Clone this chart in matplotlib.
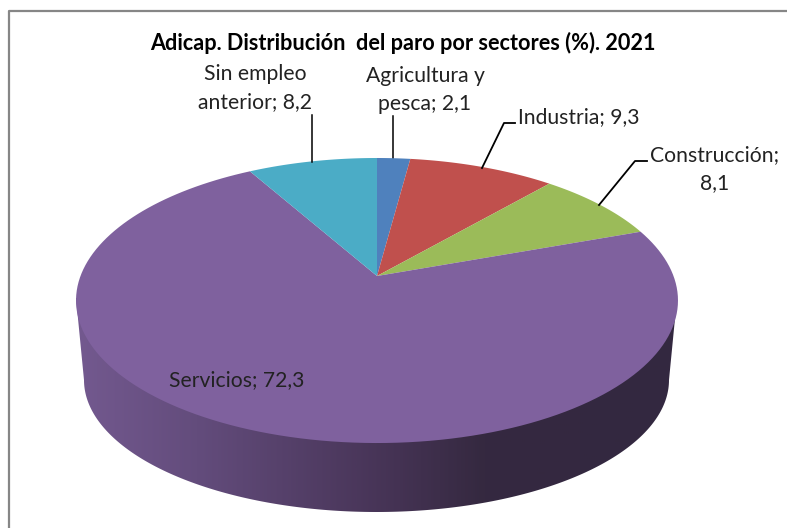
import numpy as np
from matplotlib import pyplot as plt
from matplotlib.colors import LinearSegmentedColormap

title = 'Adicap. Distribución  del paro por sectores (%). 2021'
sectors = ['Agricultura y pesca', 'Industria', 'Construcción', 'Servicios', 'Sin empleo anterior']
values = [2.1, 9.3, 8.1, 72.3, 8.2]
colors = ['#4F81BD', '#C0504D', '#9BBB59', '#7F619E', '#4BACC6']

plt.rcParams['font.family'] = ['Lato', 'DejaVu Sans']
text_color = '#222222'
label_size = 15.2

fig = plt.figure(figsize=(7.87, 5.28), dpi=100)
ax = fig.add_axes([0, 0, 1, 1])
ax.set_xlim(0, 787)
ax.set_ylim(528, 0)
ax.axis('off')


# perspective view of the pie disc, seen from above
def project(angle):
    k, a, b = 0.172, 296.5, 138.3
    x, y = np.sin(angle), np.cos(angle)
    return 377 + a * x / (1 + k * y), 276 - b * y / (1 + k * y)


# side of the disc: gradient clipped to the outline
t = np.linspace(np.pi, 0, 200)
side_x = np.r_[76, 376.5 + 292.5 * np.cos(t), 677]
side_y = np.r_[298, 380 + 132 * np.sin(t), 298]
shade = LinearSegmentedColormap.from_list('side', [(0, '#73598f'), (0.2, '#634c7c'), (0.5, '#483558'),
                                                   (0.68, '#352940'), (1, '#332840')])
poly = ax.fill(side_x, side_y, color='none')[0]
img = ax.imshow(np.linspace(0, 1, 300)[None, :], cmap=shade, extent=(76, 677, 528, 200), aspect='auto', zorder=1)
img.set_clip_path(poly)
ax.set_xlim(0, 787)
ax.set_ylim(528, 0)

# top of the disc
edges = 2 * np.pi * np.cumsum([0] + values) / sum(values)
for i, color in enumerate(colors):
    t = np.linspace(edges[i], edges[i + 1], 150)
    px, py = project(t)
    ax.fill(np.r_[377, px], np.r_[276, py], color=color, lw=0, zorder=2)

# leader lines
ax.plot([312, 312], [115, 162], color='black', lw=1.1, zorder=3)
ax.plot([393, 393], [116, 159], color='black', lw=1.1, zorder=1.5)
ax.plot([482, 504, 515], [168, 123, 123], color='black', lw=1.3, zorder=3)
ax.plot([599, 635, 647], [205, 161, 161], color='black', lw=1.3, zorder=3)

# labels
ax.text(402.5, 43, title, ha='center', va='center', fontsize=15.6, fontweight='bold', color='black')
ax.text(255, 88.5, 'Sin empleo\nanterior; 8,2', ha='center', va='center', fontsize=label_size, color=text_color, linespacing=1.5)
ax.text(425, 90.5, 'Agricultura y\npesca; 2,1', ha='center', va='center', fontsize=label_size, color=text_color, linespacing=1.5)
ax.text(518, 117, 'Industria; 9,3', ha='left', va='center', fontsize=label_size, color=text_color)
ax.text(715, 169, 'Construcción;\n8,1', ha='center', va='center', fontsize=label_size, color=text_color, linespacing=1.5)
ax.text(169, 380, 'Servicios; 72,3', ha='left', va='center', fontsize=label_size, color=text_color, zorder=4)

# chart frame, cropped on the right and at the bottom
ax.plot([8.5, 8.5, 787], [528, 10.5, 10.5], color='#868686', lw=1.6)

fig.savefig('out.png', dpi=100)
